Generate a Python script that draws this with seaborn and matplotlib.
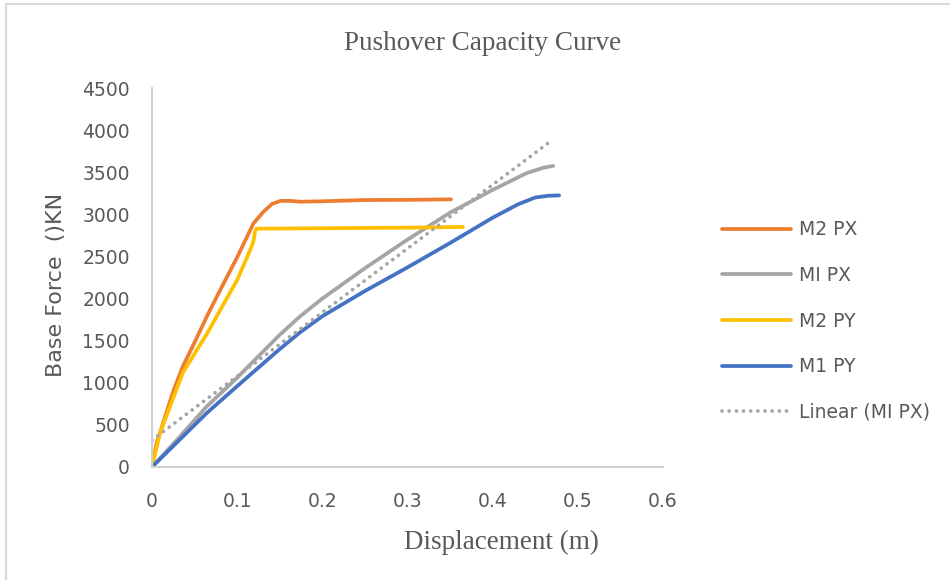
import numpy as np
import pandas as pd
import matplotlib
matplotlib.use("Agg")
import matplotlib.pyplot as plt
from matplotlib.patches import Rectangle
import seaborn as sns

# ---------------- data ----------------
disp_m2px = [0, 0.0055, 0.025, 0.036, 0.05, 0.065, 0.08, 0.10, 0.119, 0.131, 0.141,
             0.151, 0.162, 0.174, 0.20, 0.25, 0.30, 0.351]
force_m2px = [0, 285, 900, 1190, 1480, 1800, 2100, 2490, 2890, 3032, 3124,
              3160, 3160, 3150, 3155, 3170, 3172, 3178]

disp_mipx = [0, 0.03, 0.064, 0.10, 0.15, 0.174, 0.20, 0.25, 0.30, 0.35, 0.40, 0.44, 0.46, 0.471]
force_mipx = [0, 330, 716, 1060, 1570, 1790, 2000, 2360, 2700, 3020, 3290, 3490, 3555, 3575]

disp_m2py = [0, 0.0094, 0.036, 0.065, 0.10, 0.1153, 0.119, 0.121, 0.123, 0.20, 0.30, 0.365]
force_m2py = [0, 404, 1116, 1591, 2221, 2577, 2676, 2800, 2830, 2835, 2842, 2850]

disp_m1py = [0, 0.064, 0.10, 0.15, 0.174, 0.20, 0.25, 0.30, 0.35, 0.40, 0.43, 0.45, 0.465, 0.478]
force_m1py = [0, 638, 960, 1400, 1600, 1790, 2090, 2370, 2660, 2960, 3120, 3200, 3220, 3225]

trend_x = [0, 0.471]
trend_y = [320, 3890]

series_names = ["M2 PX", "MI PX", "M2 PY", "M1 PY"]
trend_name = "Linear (MI PX)"

x_ticks = [0, 0.1, 0.2, 0.3, 0.4, 0.5, 0.6]
x_tick_labels = ["0", "0.1", "0.2", "0.3", "0.4", "0.5", "0.6"]
y_ticks = [0, 500, 1000, 1500, 2000, 2500, 3000, 3500, 4000, 4500]
y_tick_labels = [str(v) for v in y_ticks]

title = "Pushover Capacity Curve"
x_label = "Displacement (m)"
y_label = "Base Force  ()KN"

# ---------------- styling ----------------
sns.set_theme(style="white")
plt.rcParams["font.family"] = ["DejaVu Sans"]

colors = ["#ED7D31", "#A5A5A5", "#FFC000", "#4472C4"]
text_color = "#595959"
lw = 2.7

W, H = 950, 580
fig = plt.figure(figsize=(W / 100, H / 100), dpi=100)
ax = fig.add_axes([152 / W, 1 - 467 / H, (663 - 152) / W, (467 - 88) / H])

all_x = [disp_m2px, disp_mipx, disp_m2py, disp_m1py]
all_y = [force_m2px, force_mipx, force_m2py, force_m1py]
for name, xs, ys, c in zip(series_names, all_x, all_y, colors):
    df = pd.DataFrame({"Displacement": xs, "Force": ys})
    sns.lineplot(data=df, x="Displacement", y="Force", ax=ax, color=c, lw=lw,
                 label=name, sort=False, estimator=None,
                 solid_capstyle="round", solid_joinstyle="round")

df_t = pd.DataFrame({"Displacement": trend_x, "Force": trend_y})
sns.lineplot(data=df_t, x="Displacement", y="Force", ax=ax, color="#A5A5A5", lw=lw,
             label=trend_name, sort=False, estimator=None,
             linestyle=(0, (0.01, 1.9)), dash_capstyle="round")

ax.set_xlim(0, 0.6)
ax.set_ylim(0, 4500)
ax.set_xticks(x_ticks)
ax.set_xticklabels(x_tick_labels)
ax.set_yticks(y_ticks)
ax.set_yticklabels(y_tick_labels)
ax.set_xlabel("")
ax.set_ylabel("")
ax.grid(False)
for s in ["top", "right"]:
    ax.spines[s].set_visible(False)
for s in ["left", "bottom"]:
    ax.spines[s].set_color("#D0D0D0")
    ax.spines[s].set_linewidth(1.5)
ax.tick_params(axis="both", length=0, labelsize=13.5, colors=text_color)
ax.tick_params(axis="y", pad=16)
ax.tick_params(axis="x", pad=18)

handles, labels = ax.get_legend_handles_labels()
ax.legend(handles, labels, loc="center left",
          bbox_to_anchor=(722 / W, 1 - 321 / H), bbox_transform=fig.transFigure,
          frameon=False, fontsize=13.5, handlelength=3.7, handletextpad=0.4,
          labelspacing=1.42, borderpad=0, borderaxespad=0, labelcolor=text_color)

fig.text(483 / W, 1 - 50 / H, title, ha="center", va="baseline",
         family="Liberation Serif", size=19.5, color=text_color)
fig.text(501 / W, 1 - 549 / H, x_label, ha="center", va="baseline",
         family="Liberation Serif", size=19.5, color=text_color)
fig.text(56 / W, 1 - 284.5 / H, y_label, rotation=90, ha="center", va="center",
         size=16, color=text_color)

border = Rectangle((6 / W, -0.1), 1.2, 1.1 - 4 / H, transform=fig.transFigure,
                   fill=False, edgecolor="#D9D9D9", lw=1.5, clip_on=False)
fig.patches.append(border)

fig.savefig("out.png", dpi=100)
